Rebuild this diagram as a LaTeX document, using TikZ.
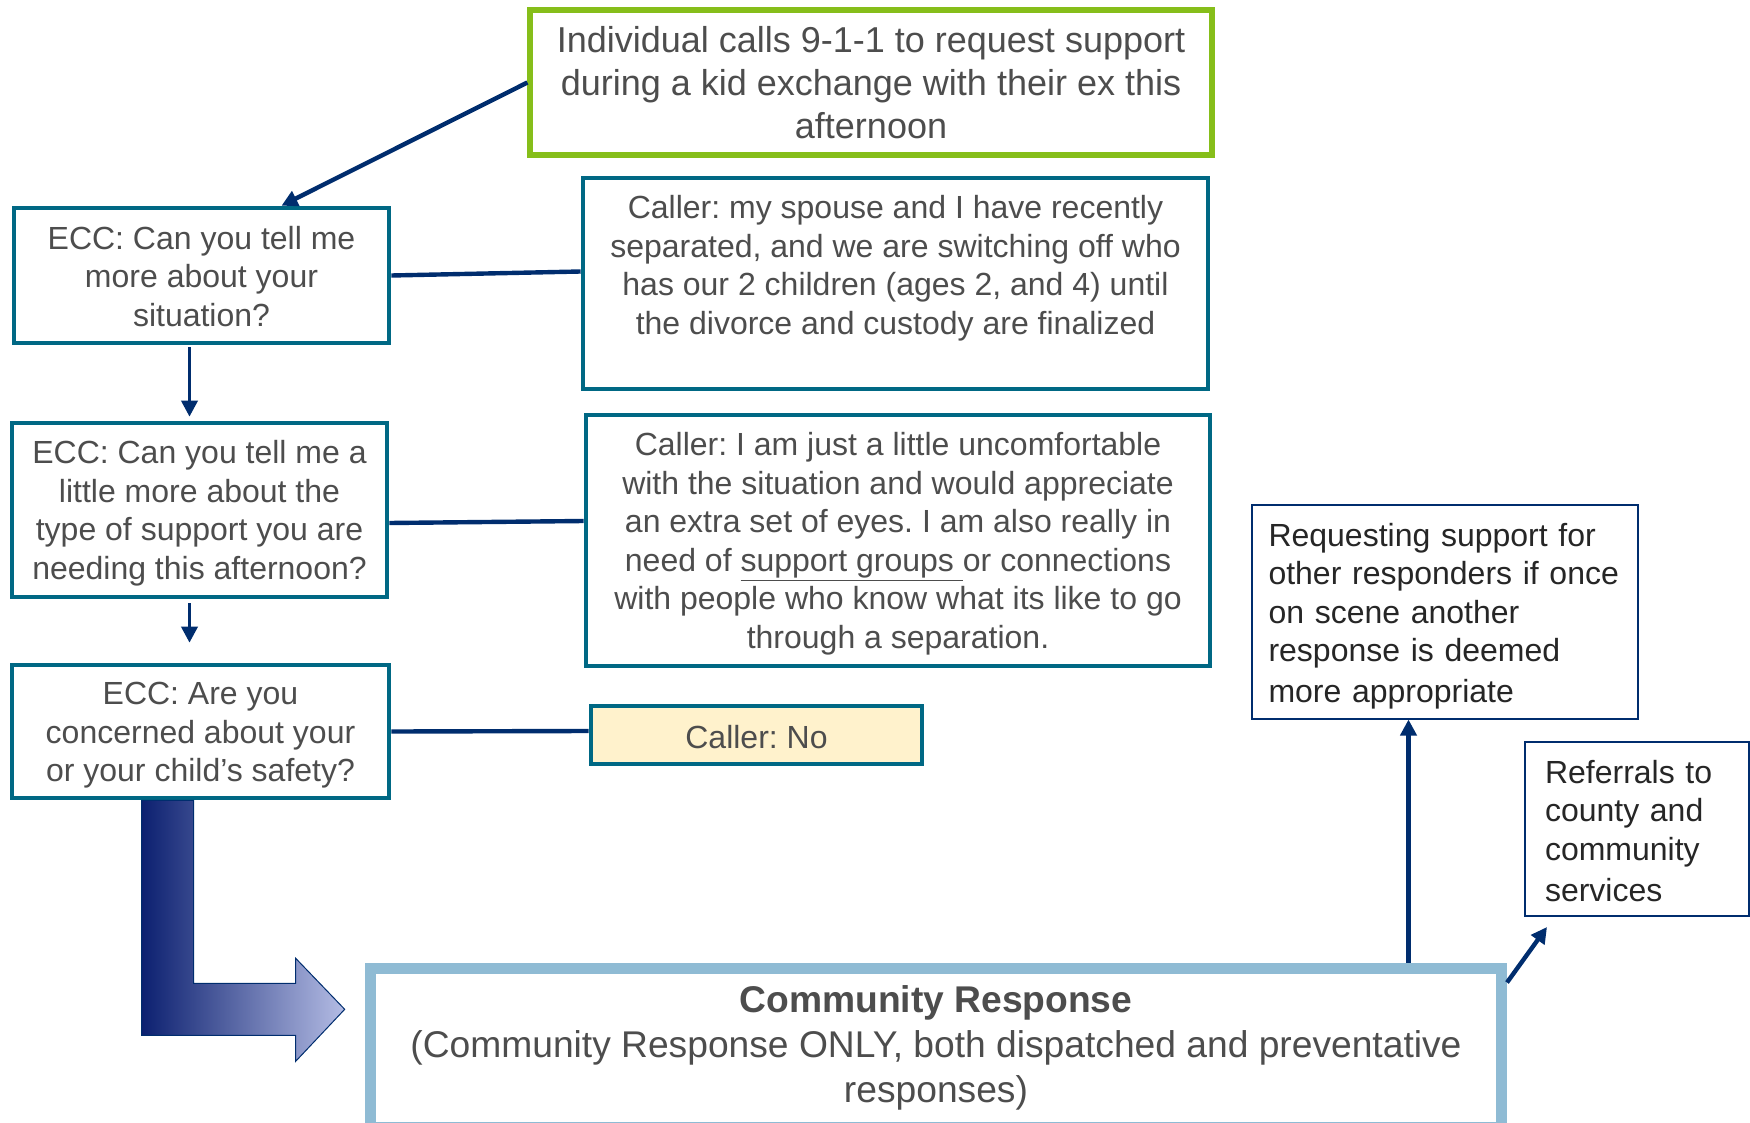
\documentclass[tikz,border=0pt]{standalone}
\usepackage{fontspec}
\setmainfont{Liberation Sans}
\usetikzlibrary{arrows.meta}
\frenchspacing

\definecolor{linkblue}{RGB}{0,45,110}
\definecolor{eccteal}{RGB}{0,104,132}
\definecolor{callgreen}{RGB}{134,190,26}
\definecolor{noyellow}{RGB}{255,242,204}
\definecolor{commblue}{RGB}{143,187,212}
\definecolor{txtgray}{RGB}{77,77,77}
\definecolor{txtdark}{RGB}{38,38,38}
\definecolor{benddark}{RGB}{12,32,112}
\definecolor{bendmid}{RGB}{100,112,178}
\definecolor{bendlight}{RGB}{180,188,228}

% line struts for the box texts
\newcommand\boxstrut{\rule[\dimexpr2.8pt-0.3\baselineskip\relax]{0pt}{\baselineskip}}
\newcommand\headstrut{\rule{0pt}{\dimexpr0.7\baselineskip+1.5pt\relax}}

\begin{document}
\begin{tikzpicture}[x=0.5pt,y=-0.5pt,
  block/.style={rectangle,draw=eccteal,line width=2.3pt,fill=white,text=txtgray,align=center,font=\fontsize{16}{19.25}\selectfont,
    execute at end node=\boxstrut},
  note/.style={rectangle,draw=linkblue,line width=1pt,fill=white,text=txtdark,align=left,font=\fontsize{16}{19.25}\selectfont,
    execute at begin node=\boxstrut,execute at end node=\boxstrut},
  link/.style={draw=linkblue,line width=2.2pt},
  arr/.style={link,-{Triangle[length=8pt,width=8pt]}}]
\useasboundingbox (0,0) rectangle (1750,1123);

% ECC questions and caller answers
\path
(871,82.5) node [block,draw=callgreen,line width=2.6pt,minimum width=341pt,minimum height=72.5pt,font=\fontsize{18}{21.5}\selectfont] (start) {\headstrut Individual calls 9-1-1 to request support\\during a kid exchange with their ex this\\afternoon}
(201.5,275.5) node [block,minimum width=187.5pt,minimum height=67.5pt] (askmore) {\headstrut ECC: Can you tell me\\more about your\\situation?}
(895.5,283.5) node [block,minimum width=312.5pt,minimum height=105.5pt] (ansmore) {\headstrut Caller: my spouse and I have recently\\separated, and we are switching off who\\has our 2 children (ages 2, and 4) until\\the divorce and custody are finalized\\}
(199.5,510) node [block,minimum width=187.5pt,minimum height=87pt] (asktype) {\headstrut ECC: Can you tell me a\\little more about the\\type of support you are\\needing this afternoon?}
(898,540.5) node [block,minimum width=312pt,minimum height=125.5pt] (anstype) {\headstrut Caller: I am just a little uncomfortable\\with the situation and would appreciate\\an extra set of eyes. I am also really in\\need of \underline{support groups\ }or connections\\with people who know what its like to go\\through a separation.}
(200.5,731.5) node [block,minimum width=188.5pt,minimum height=66.5pt] (asksafe) {\headstrut ECC: Are you\\concerned about your\\or your child’s safety?}
(756.5,735) node [block,fill=noyellow,minimum width=165.5pt,minimum height=29pt,execute at end node={}] (ansno) {Caller: No}
;

% response and follow ups
\path
(936,1047.5) node [block,draw=commblue,line width=5.5pt,inner ysep=2pt,minimum width=565.5pt,minimum height=79.5pt,font=\fontsize{18.6}{22.5}\selectfont] (comm) {\textbf{Community Response}\\(Community Response ONLY, both dispatched and preventative\\responses)}
(1444.5,611.5) node [note,text width=176pt,inner xsep=8.5pt,minimum height=107pt] (reqother) {Requesting support for\\other responders if once\\on scene another\\response is deemed\\more appropriate}
(1637,829) node [note,text width=92pt,inner xsep=10pt,minimum height=87pt] (referral) {Referrals to\\county and\\community\\services}
;

\begin{scope}
\draw[arr] (start.west) -- ([xshift=40pt]askmore.north);
\draw[link] (askmore.east) -- ([yshift=6pt]ansmore.west);
\draw[arr,line width=1.8pt] ([xshift=-6pt,yshift=-1pt]askmore.south) -- ([xshift=-5pt,yshift=2pt]asktype.north);
\draw[link] ([yshift=-6.5pt]asktype.east) -- ([yshift=9.75pt]anstype.west);
\draw[arr,line width=1.8pt] ([xshift=-5pt,yshift=-2pt]asktype.south) -- ([xshift=-5.5pt,yshift=10pt]asksafe.north);
\draw[link] (asksafe.east) -- ([yshift=2pt]ansno.west);
\end{scope}

% bent block arrow down to the response
\shadedraw[left color=benddark,middle color=bendmid,right color=bendlight,draw=linkblue,line width=0.5pt]
  ([xshift=66pt]asksafe.south west) -- ++(52,0) -- ++(0,183) -- ++(102,0) -- ++(0,-25)
  -- ++(49,51) -- ++(-49,52) -- ++(0,-26) -- ++(-154,0) -- cycle;

\coordinate (reqfoot) at ([xshift=-18pt]reqother.south);
\draw[arr] (reqfoot |- comm.north) -- (reqfoot);
\draw[arr] ([yshift=-10pt]comm.north east) -- ([xshift=11.5pt,yshift=-5pt]referral.south west);
\end{tikzpicture}
\end{document}
